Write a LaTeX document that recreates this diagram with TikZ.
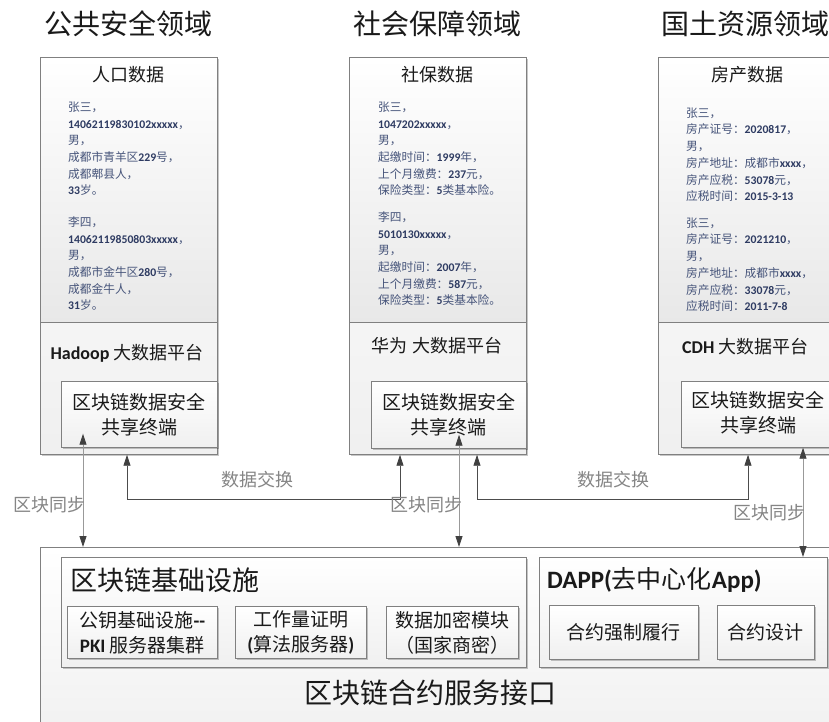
\documentclass[tikz,border=0pt]{standalone}
\usepackage{fontspec}
\setmainfont{Noto Sans CJK SC}
\newfontfamily\carlito{Carlito}
\usetikzlibrary{arrows.meta,shadows,calc}
\definecolor{datac}{HTML}{46547A}
\definecolor{datab}{HTML}{2E3B62}
\definecolor{edge}{HTML}{808080}
\definecolor{lbl}{HTML}{858585}
\definecolor{ttl}{HTML}{1A1A1A}
\newcommand\dnum[1]{{\carlito\bfseries\color{datab}#1}}
\newcommand\lbf[1]{{\carlito\bfseries #1}}
\begin{document}
\begin{tikzpicture}[x=1pt,y=-1pt,
  box/.style={draw=edge, line width=0.7pt, top color=white, bottom color=gray!12, inner sep=0pt, anchor=north west,
    drop shadow={shadow xshift=1.2pt, shadow yshift=-1.4pt, fill=black, opacity=0.22}},
  databox/.style={draw=edge, line width=0.7pt, top color=white, bottom color=gray!18, inner sep=0pt, anchor=north west},
  title/.style={font=\fontsize{28}{30}\selectfont, text=ttl, inner sep=0pt},
  head/.style={font=\fontsize{18}{20}\selectfont, text=ttl, inner sep=0pt},
  data/.style={font=\fontsize{11.7}{16.7}\selectfont, text=datac, align=left, inner sep=0pt, anchor=west},
  term/.style={font=\fontsize{19}{25}\selectfont, text=ttl, align=center, inner sep=0pt},
  small/.style={font=\fontsize{19}{25}\selectfont, text=ttl, align=center, inner sep=0pt},
  glabel/.style={font=\fontsize{18}{20}\selectfont, text=lbl, inner sep=0pt},
  arrtip/.tip={Triangle[length=11pt,width=7pt,color=black!75]},
  xarr/.style={draw=black!70, line width=0.8pt, arrows={arrtip-arrtip}},
  sarr/.style={draw=black!40, line width=0.8pt, arrows={arrtip-arrtip}}
]
\useasboundingbox (0,0) rectangle (829,722);
\begin{scope}
\clip (0,0) rectangle (829,722);
\fill[white] (0,0) rectangle (829,722);

% titles
\node[title] (t1) at (128,24) {公共安全领域};
\node[title] (t2) at (437,24) {社会保障领域};
\node[title] (t3) at (745,24) {国土资源领域};

% panel 1
\node[box, minimum width=177pt, minimum height=397pt] (p1) at (40,57) {};
\node[databox, minimum width=177pt, minimum height=265pt] (p1data) at (40,57) {};
\node[head] (h1) at (128,75) {人口数据};
\node[data] (d1a) at (68,148.75) {张三，\\\dnum{14062119830102xxxxx}，\\男，\\成都市青羊区\dnum{229}号，\\成都郫县人，\\\dnum{33}岁。};
\node[data] (d1b) at (68,263.75) {李四，\\\dnum{14062119850803xxxxx}，\\男，\\成都市金牛区\dnum{280}号，\\成都金牛人，\\\dnum{31}岁。};
\node[head] (pl1) at (127,353) {\lbf{Hadoop} 大数据平台};
\node[box, minimum width=156pt, minimum height=66pt] (p1term) at (61,381) {};
\node[term] (tt1) at (p1term.center) {区块链数据安全\\共享终端};

% panel 2
\node[box, minimum width=177pt, minimum height=397pt] (p2) at (349,57) {};
\node[databox, minimum width=177pt, minimum height=265pt] (p2data) at (349,57) {};
\node[head] (h2) at (437,75) {社保数据};
\node[data] (d2a) at (378,148.75) {张三，\\\dnum{1047202xxxxx}，\\男，\\起缴时间：\dnum{1999}年，\\上个月缴费：\dnum{237}元，\\保险类型：\dnum{5}类基本险。};
\node[data] (d2b) at (378,258.75) {李四，\\\dnum{5010130xxxxx}，\\男，\\起缴时间：\dnum{2007}年，\\上个月缴费：\dnum{587}元，\\保险类型：\dnum{5}类基本险。};
\node[head] (pl2) at (437,346) {华为 大数据平台};
\node[box, minimum width=155pt, minimum height=67pt] (p2term) at (371,381) {};
\node[term] (tt2) at (p2term.center) {区块链数据安全\\共享终端};

% panel 3
\node[box, minimum width=177pt, minimum height=397pt] (p3) at (658,57) {};
\node[databox, minimum width=177pt, minimum height=265pt] (p3data) at (658,57) {};
\node[head] (h3) at (747,75) {房产数据};
\node[data] (d3a) at (686,154.75) {张三，\\房产证号：\dnum{2020817}，\\男，\\房产地址：成都市\dnum{xxxx}，\\房产应税：\dnum{53078}元，\\应税时间：\dnum{2015-3-13}};
\node[data] (d3b) at (686,264.75) {张三，\\房产证号：\dnum{2021210}，\\男，\\房产地址：成都市\dnum{xxxx}，\\房产应税：\dnum{33078}元，\\应税时间：\dnum{2011-7-8}};
\node[head, anchor=west] (pl3) at (682,347) {\lbf{CDH} 大数据平台};
\node[box, minimum width=154pt, minimum height=66pt] (p3term) at (681,381) {};
\node[term] (tt3) at (758,413) {区块链数据安全\\共享终端};

% base
\node[box, minimum width=795pt, minimum height=200pt] (base) at (40,547) {};
\node[box, minimum width=465pt, minimum height=110pt] (infra) at (61,557) {};
\node[font=\fontsize{27}{30}\selectfont, text=ttl, inner sep=0pt, anchor=west] (infrat) at (70,580) {区块链基础设施};
\node[box, minimum width=150pt, minimum height=52pt] (k1) at (67,606) {};
\node[small] (k1t) at (k1.center) {公钥基础设施\lbf{--}\\\lbf{PKI} 服务器集群};
\node[box, minimum width=131pt, minimum height=52pt] (k2) at (235,606) {};
\node[small] (k2t) at (k2.center) {工作量证明\\\lbf{(}算法服务器\lbf{)}};
\node[box, minimum width=132pt, minimum height=52pt] (k3) at (386,606) {};
\node[small] (k3t) at (k3.center) {数据加密模块\\（国家商密）};
\node[box, minimum width=288pt, minimum height=110pt] (dapp) at (539,557) {};
\node[font=\fontsize{25}{28}\selectfont, text=ttl, inner sep=0pt, anchor=west] (dappt) at (547,580) {\lbf{DAPP(}去中心化\lbf{App)}};
\node[box, minimum width=149pt, minimum height=54pt] (c1) at (549,605) {};
\node[small] (c1t) at (c1.center) {合约强制履行};
\node[box, minimum width=97pt, minimum height=54pt] (c2) at (717,605) {};
\node[small] (c2t) at (c2.center) {合约设计};
\node[font=\fontsize{28}{30}\selectfont, text=ttl, inner sep=0pt] (baset) at (430,693) {区块链合约服务接口};

% data exchange
\draw[xarr] ([xshift=87pt]p1.south west) -- ++(0,45) -| ([xshift=51pt]p2.south west);
\draw[xarr] ([xshift=128pt]p2.south west) -- ++(0,45) -| ([xshift=90pt]p3.south west);
\node[glabel] (x1) at (257,480) {数据交换};
\node[glabel] (x2) at (613,480) {数据交换};

% block sync
\coordinate (s1) at ([xshift=22pt,yshift=14pt]p1term.south west);
\coordinate (s2) at ([xshift=88pt,yshift=14pt]p2term.south west);
\coordinate (s3) at ([xshift=122pt]p3term.south west);
\draw[sarr] (s1) -- (s1 |- base.north);
\draw[sarr] (s2) -- (s2 |- base.north);
\draw[sarr] (s3) -- (s3 |- dapp.north);
\node[glabel] (y1) at (49,505) {区块同步};
\node[glabel] (y2) at (426,505) {区块同步};
\node[glabel] (y3) at (769,513) {区块同步};
\end{scope}
\end{tikzpicture}
\end{document}
